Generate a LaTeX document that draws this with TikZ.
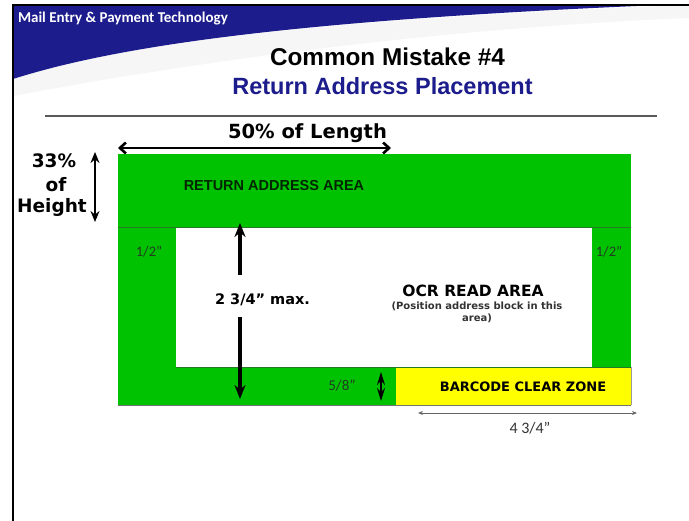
\documentclass[tikz,border=0pt]{standalone}
\usepackage{fontspec}
\setmainfont{Liberation Sans}
\newfontfamily\dvs{DejaVu Sans}
\newfontfamily\carl{Carlito}
\usetikzlibrary{arrows.meta}
\definecolor{navy}{RGB}{28,28,140}
\definecolor{grn}{RGB}{0,194,0}
\definecolor{grnedge}{RGB}{40,120,40}
\definecolor{yel}{RGB}{255,255,0}
\definecolor{txtgreen}{RGB}{35,60,35}
\begin{document}
\begin{tikzpicture}[x=1pt,y=-1pt,
  lbl/.style={inner sep=0pt,outer sep=0pt,anchor=base},
  heavy/.style={line width=2.6pt,black},
  thinedge/.style={line width=0.6pt,grnedge}]
\useasboundingbox (0,0) rectangle (689,521);
\fill[white] (0,0) rectangle (689,521);
% header swoosh
\fill[gray!7] (13,79) .. controls (120,45) and (300,20) .. (689,5) -- (689,18) .. controls (400,30) and (150,70) .. (13,96) -- cycle;
\fill[navy] (13,5) -- (660,5) .. controls (300,20) and (120,45) .. (13,79) -- cycle;
\draw[line width=2.5pt,black] (12,5) -- (689,5);
\draw[line width=2.5pt,black] (13,4) -- (13,521);
\node[lbl,anchor=base west,text=white,font={\carl\bfseries\fontsize{15}{17}\selectfont}] (hdr) at (18,23) {Mail Entry \& Payment Technology};
% titles
\node[lbl,font={\bfseries\fontsize{24.3}{28}\selectfont}] (t1) at (387.5,66) {Common Mistake \#4};
\node[lbl,text=navy,font={\bfseries\fontsize{23.5}{28}\selectfont}] (t2) at (382.5,95) {Return Address Placement};
\draw[line width=2pt,black!65] (45,116) -- (657,116);
% envelope zones
\fill[grn] (118,154) rectangle (631,405);
\fill[white] (176,227) rectangle (592,367);
\fill[yel] (396,367) rectangle (631,405);
\draw[thinedge] (118,227) -- (631,227);
\draw[thinedge] (176,367) -- (631,367);
\draw[line width=0.8pt,black!55] (118,405) -- (631,405);
\draw[line width=0.6pt,black!40] (631,367) -- (631,405);
% labels
\node[lbl,text=black!85!green,font={\bfseries\fontsize{14.5}{16}\selectfont}] (ret) at (274,191) {RETURN ADDRESS AREA};
\node[lbl,font={\dvs\bfseries\fontsize{19.5}{22}\selectfont}] (len) at (307.5,139) {50\% of Length};
\node[lbl,font={\dvs\bfseries\fontsize{18.5}{22}\selectfont}] (h1) at (54,168) {33\%};
\node[lbl,font={\dvs\bfseries\fontsize{18.5}{22}\selectfont}] (h2) at (56,192) {of};
\node[lbl,font={\dvs\bfseries\fontsize{18.5}{22}\selectfont}] (h3) at (52,213) {Height};
\node[lbl,text=txtgreen,font={\carl\fontsize{14.5}{16}\selectfont}] (hl) at (149,257) {1/2”};
\node[lbl,text=txtgreen,font={\carl\fontsize{14.5}{16}\selectfont}] (hr) at (609,257) {1/2”};
\node[lbl,font={\dvs\bfseries\fontsize{14.5}{16}\selectfont}] (dim) at (262.5,305) {2 3/4” max.};
\node[lbl,font={\dvs\bfseries\fontsize{15.5}{18}\selectfont}] (ocr) at (473,297) {OCR READ AREA};
\node[lbl,text=black!80,font={\dvs\bfseries\fontsize{10}{12}\selectfont}] (ocr2) at (477,310) {(Position address block in this};
\node[lbl,text=black!80,font={\dvs\bfseries\fontsize{10}{12}\selectfont}] (ocr3) at (477,322) {area)};
\node[lbl,text=txtgreen,font={\carl\fontsize{15}{17}\selectfont}] (fe) at (342,391) {5/8”};
\node[lbl,font={\dvs\bfseries\fontsize{13}{15}\selectfont}] (bar) at (523,392) {BARCODE CLEAR ZONE};
\node[lbl,text=black!80,font={\carl\fontsize{16}{18}\selectfont}] (w) at (530,434) {4 3/4”};
% dimension arrows
\coordinate (lenL) at (118,148);
\coordinate (lenR) at (391,148);
\draw[heavy,{Straight Barb[length=6pt,width=11pt]}-{Straight Barb[length=6pt,width=11pt]}] (lenL) -- (lenR);
\coordinate (hT) at (95,152);
\coordinate (hB) at (95,222);
\draw[heavy,{Stealth[length=11pt,width=9pt]}-{Stealth[length=11pt,width=9pt]}] (hT) -- (hB);
\coordinate (dT) at (240,223);
\coordinate (dTe) at (240,275);
\coordinate (dBs) at (240,317);
\coordinate (dB) at (240,399);
\draw[line width=3.2pt,-{Stealth[length=14pt,width=11pt]}] (dTe) -- (dT);
\draw[line width=3.2pt,-{Stealth[length=14pt,width=11pt]}] (dBs) -- (dB);
\coordinate (fT) at (381,372);
\coordinate (fB) at (381,401);
\draw[line width=1.5pt,{Stealth[length=13pt,width=8pt]}-{Stealth[length=13pt,width=8pt]}] (fT) -- (fB);
\coordinate (wL) at (418,413);
\coordinate (wR) at (637,413);
\draw[line width=0.8pt,black!60,{Stealth[length=5pt,width=4pt]}-{Stealth[length=5pt,width=4pt]}] (wL) -- (wR);
\end{tikzpicture}
\end{document}
